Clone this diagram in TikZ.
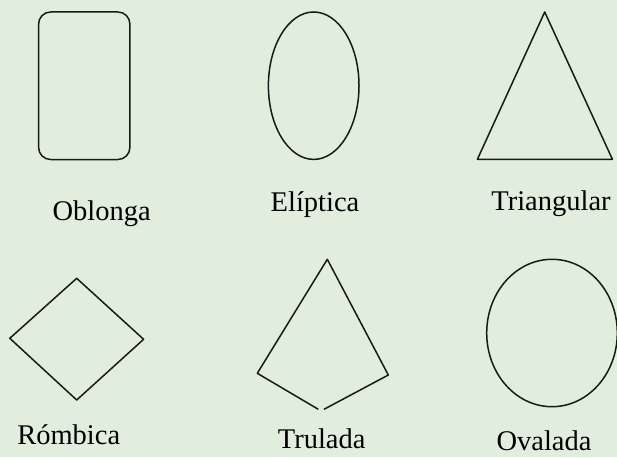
\documentclass[tikz,border=0pt]{standalone}
\usepackage{fontspec}
\setmainfont{Liberation Serif}
\usepackage{tikz}
\definecolor{leafbg}{RGB}{225,237,221}

\begin{document}
\begin{tikzpicture}[x=1pt,y=-1pt,line width=1.5pt,line join=round,
	every node/.style={font=\fontsize{28.5}{34}\selectfont,anchor=base,inner sep=0pt},
	outline/.style={draw=black!90}]
	\fill[leafbg] (0,0) rectangle (617,457);
	\useasboundingbox (0,0) rectangle (617,457);
	% first row
	\draw[outline,rounded corners=12pt] (38.6,12) rectangle (129.9,159.5);
	\draw[outline] (313.7,85.7) ellipse (45.3 and 73.7);
	\draw[outline] (544.7,12) -- (477.4,159.3) -- (612.4,159.3) -- cycle;
	\node (oblonga) at (101.7,220.5) {Oblonga};
	\node (eliptica) at (315,211.7) {Elíptica};
	\node (triangular) at (551,210.7) {Triangular};
	% second row
	\draw[outline] (76.7,278.3) -- (143.6,339.3) -- (76.7,400) -- (9.8,338.3) -- cycle;
	\draw[outline] (318.3,409.3) -- (257.3,373.3) -- (327.3,259.3) -- (388.3,375) -- (324,409.3);
	\draw[outline] (552,333) ellipse (65.3 and 73.7);
	\node (rombica) at (68.7,444.3) {Rómbica};
	\node (trulada) at (321.7,448.3) {Trulada};
	\node (ovalada) at (544,450) {Ovalada};
	
\end{tikzpicture}
\end{document}
